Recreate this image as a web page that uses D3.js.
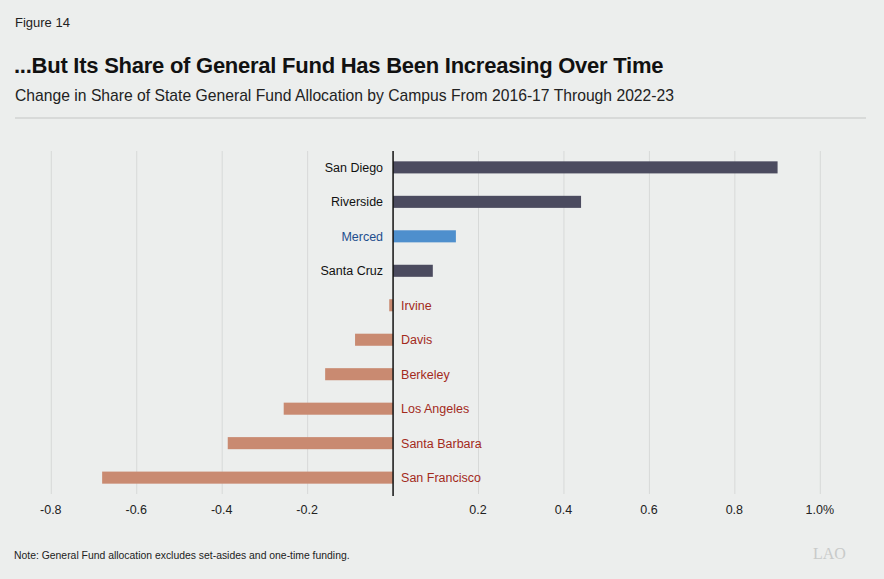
<!DOCTYPE html>
<html><head><meta charset="utf-8">
<script src="https://cdn.jsdelivr.net/npm/d3@7"></script>
<style>
html,body{margin:0;padding:0;background:#eceeed;}
svg{display:block;font-family:"Liberation Sans",Arial,sans-serif;}
</style></head>
<body>
<svg id="c" width="884" height="579"></svg>
<script>
const campuses = ["San Diego","Riverside","Merced","Santa Cruz","Irvine","Davis","Berkeley","Los Angeles","Santa Barbara","San Francisco"];
const changes  = [0.90, 0.44, 0.147, 0.093, -0.009, -0.089, -0.159, -0.256, -0.387, -0.681];
const highlight = ["Merced"];
const tickValues = [-0.8,-0.6,-0.4,-0.2,0.2,0.4,0.6,0.8,1.0];
const tickLabels = ["-0.8","-0.6","-0.4","-0.2","0.2","0.4","0.6","0.8","1.0%"];

const data = campuses.map((c,i)=>({campus:c, value:changes[i]}));
const svg = d3.select("#c");
svg.append("rect").attr("width",884).attr("height",579).attr("fill","#eceeed");

// header
svg.append("text").attr("x",15).attr("y",27).attr("font-size",13).attr("fill","#222").text("Figure 14");
svg.append("text").attr("x",14).attr("y",73).attr("font-size",22).attr("font-weight","bold").attr("letter-spacing",-0.25).attr("fill","#111")
  .text("...But Its Share of General Fund Has Been Increasing Over Time");
svg.append("text").attr("x",15).attr("y",101).attr("font-size",15.7).attr("fill","#222")
  .text("Change in Share of State General Fund Allocation by Campus From 2016-17 Through 2022-23");
svg.append("line").attr("x1",15).attr("x2",866).attr("y1",118).attr("y2",118).attr("stroke","#c4c6c5").attr("stroke-width",1);

const x = d3.scaleLinear().domain([-0.8,1.0]).range([51.3,820.3]);
const y = d3.scaleBand().domain(campuses).range([151,494]).paddingInner(0.65).paddingOuter(0.3);

// gridlines
svg.append("g").selectAll("line").data(tickValues).join("line")
  .attr("x1",d=>x(d)).attr("x2",d=>x(d)).attr("y1",151).attr("y2",494)
  .attr("stroke","#d7d9d8").attr("stroke-width",1);

// axis labels via d3 axis
const axis = d3.axisBottom(x).tickValues(tickValues).tickSize(0).tickPadding(0)
  .tickFormat((d,i)=>tickLabels[i]);
const ag = svg.append("g").attr("transform","translate(-1,505)").call(axis);
ag.select(".domain").remove();
ag.selectAll("text").attr("font-size",12.5).attr("fill","#222").attr("font-family","'Liberation Sans',Arial,sans-serif").attr("dy","0.71em");

// bars
const color = d => highlight.includes(d.campus) ? "#4e8fcd" : (d.value>=0 ? "#4b4b5f" : "#c98a71");
svg.append("g").selectAll("rect").data(data).join("rect")
  .attr("x",d=>x(Math.min(0,d.value)))
  .attr("width",d=>Math.abs(x(d.value)-x(0)))
  .attr("y",d=>y(d.campus))
  .attr("height",y.bandwidth())
  .attr("fill",color);

// labels
svg.append("g").selectAll("text").data(data).join("text")
  .attr("x",d=>d.value>=0 ? x(0)-10 : x(0)+8)
  .attr("y",d=>y(d.campus)+y.bandwidth()/2)
  .attr("dy","0.35em")
  .attr("text-anchor",d=>d.value>=0?"end":"start")
  .attr("font-size",12.5)
  .attr("fill",d=>highlight.includes(d.campus) ? "#1e4e8e" : (d.value>=0 ? "#111" : "#a32a1c"))
  .text(d=>d.campus);

// zero axis line
svg.append("line").attr("x1",x(0)).attr("x2",x(0)).attr("y1",151).attr("y2",496).attr("stroke","#111").attr("stroke-width",1.5);

// note
svg.append("text").attr("x",14).attr("y",559).attr("font-size",10.4).attr("fill","#222")
  .text("Note: General Fund allocation excludes set-asides and one-time funding.");
svg.append("text").attr("x",813).attr("y",559).attr("font-size",16).attr("font-family","'Liberation Serif',serif").attr("fill","#c8cac9").text("LAO");
</script>
</body></html>
